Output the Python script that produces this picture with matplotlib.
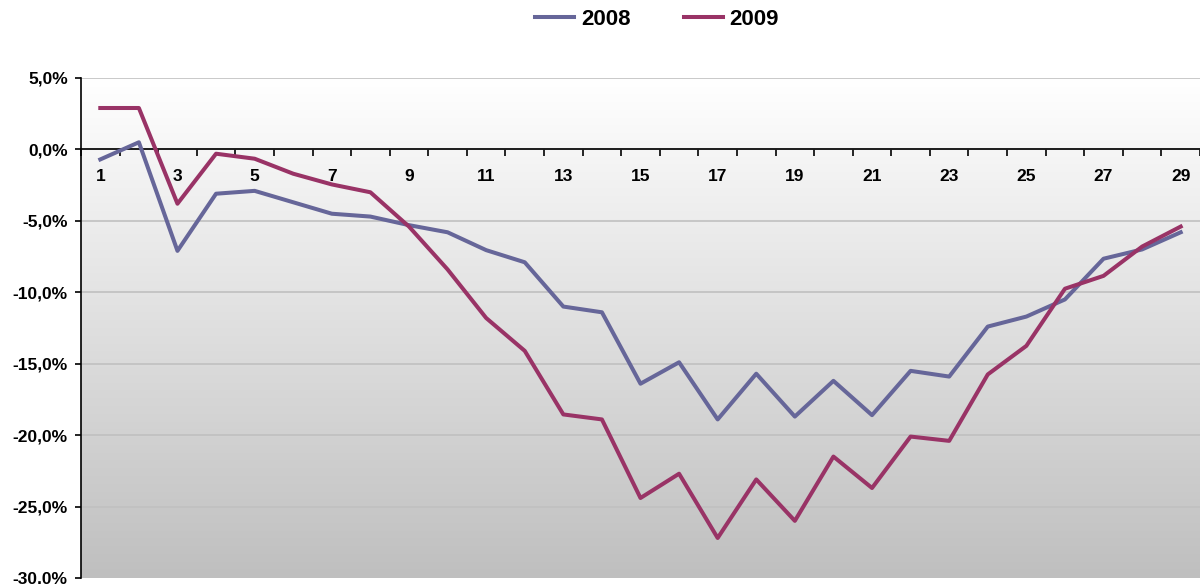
import numpy as np
import matplotlib.pyplot as plt
from matplotlib.colors import LinearSegmentedColormap
from matplotlib.ticker import FuncFormatter

plt.rcParams['font.family'] = ['Liberation Sans', 'DejaVu Sans']
plt.rcParams['font.weight'] = 'bold'

days = list(range(1, 30))
y2008 = [-0.7, 0.5, -7.1, -3.1, -2.9, -3.7, -4.5, -4.7, -5.3, -5.8,
         -7.05, -7.9, -11.0, -11.4, -16.4, -14.9, -18.9, -15.7, -18.7, -16.2,
         -18.6, -15.5, -15.9, -12.4, -11.7, -10.5, -7.65, -7.0, -5.8]
y2009 = [2.9, 2.9, -3.8, -0.3, -0.65, -1.7, -2.45, -3.0, -5.4, -8.4,
         -11.8, -14.1, -18.55, -18.9, -24.4, -22.7, -27.2, -23.1, -26.0, -21.5,
         -23.7, -20.1, -20.4, -15.75, -13.75, -9.75, -8.85, -6.8, -5.4]

fig = plt.figure(figsize=(12, 5.84), dpi=100)
ax = fig.add_axes([81/1200, 6/584, 1 - 81/1200, 500/584])

# grey gradient background, white at the top
grad = np.linspace(0, 1, 256).reshape(-1, 1)
cmap = LinearSegmentedColormap.from_list('g', ['#ffffff', '#bfbfbf'])
ax.imshow(grad, cmap=cmap, aspect='auto', origin='upper',
          extent=[0.5, 29.5, -30, 5], zorder=0)

ax.plot(days, y2008, color='#666699', lw=2.9, label='2008', zorder=3)
ax.plot(days, y2009, color='#993366', lw=2.9, label='2009', zorder=3)

ax.set_xlim(0.5, 29.5)
ax.set_ylim(-30, 5)
ax.set_yticks(np.arange(-30, 6, 5))
ax.yaxis.set_major_formatter(FuncFormatter(lambda v, p: f"{v:.1f}%".replace('.', ',')))
ax.grid(axis='y', color='#c0c0c0', lw=1.2, zorder=1)

ax.spines['top'].set_visible(False)
ax.spines['right'].set_visible(False)
ax.spines['bottom'].set_position(('data', 0))
ax.spines['bottom'].set_zorder(2)
ax.spines['left'].set_linewidth(1.2)
ax.spines['bottom'].set_linewidth(1.2)

ax.set_xticks(range(1, 30, 2))
ax.set_xticks(np.arange(0.5, 30, 1), minor=True)
ax.tick_params(axis='x', which='major', length=0, pad=14, labelsize=12.5)
ax.tick_params(axis='x', which='minor', length=5, width=1.2, direction='out')
ax.tick_params(axis='y', length=4.5, width=1.2, labelsize=12.5, pad=5)
for lbl in ax.get_xticklabels() + ax.get_yticklabels():
    lbl.set_fontweight('bold')

fig.legend(loc='center', bbox_to_anchor=(0.5475, 0.967), ncol=2, frameon=False,
           prop={'size': 16, 'weight': 'bold'}, handlelength=1.75,
           handletextpad=0.3, columnspacing=2.4)

fig.savefig('out.png', dpi=100)
